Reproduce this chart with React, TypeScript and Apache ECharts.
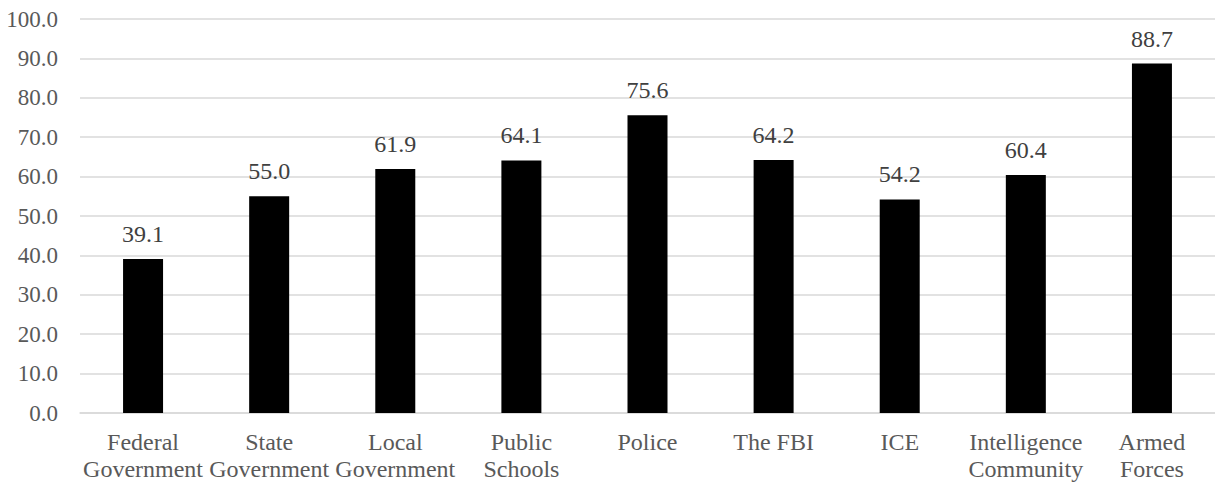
import React, { useEffect, useRef } from "react";
import * as echarts from "echarts";

const categories = [
  "Federal\nGovernment",
  "State\nGovernment",
  "Local\nGovernment",
  "Public\nSchools",
  "Police",
  "The FBI",
  "ICE",
  "Intelligence\nCommunity",
  "Armed\nForces",
];
const values = [39.1, 55.0, 61.9, 64.1, 75.6, 64.2, 54.2, 60.4, 88.7];
const yMin = 0;
const yMax = 100;
const yInterval = 10;

const FONT = "Times New Roman, Liberation Serif, DejaVu Serif, serif";

export default function App() {
  const ref = useRef<HTMLDivElement>(null);
  useEffect(() => {
    if (!ref.current) return;
    const chart = echarts.init(ref.current, undefined, { renderer: "svg" });
    chart.setOption({
      animation: false,
      textStyle: { fontFamily: FONT },
      grid: { left: 80, width: 1139, top: 19, bottom: 70, containLabel: false },
      xAxis: {
        type: "category",
        data: categories,
        axisTick: { show: false },
        axisLine: { show: true, lineStyle: { color: "#d9d9d9", width: 1.5 } },
        axisLabel: {
          color: "#595959",
          fontFamily: FONT,
          fontSize: 24,
          lineHeight: 27,
          margin: 15,
          interval: 0,
        },
      },
      yAxis: {
        type: "value",
        min: yMin,
        max: yMax,
        interval: yInterval,
        axisLine: { show: false },
        axisTick: { show: false },
        splitLine: { lineStyle: { color: "#d9d9d9", width: 1.5 } },
        axisLabel: {
          color: "#595959",
          fontFamily: FONT,
          fontSize: 23,
          margin: 22,
          formatter: (v: number) => v.toFixed(1),
        },
      },
      series: [
        {
          type: "bar",
          data: values,
          barWidth: 40,
          itemStyle: { color: "#000000" },
          label: {
            show: true,
            position: "top",
            distance: 13,
            color: "#404040",
            fontFamily: FONT,
            fontSize: 24,
            formatter: (p: any) => Number(p.value).toFixed(1),
          },
        },
      ],
    });
    return () => chart.dispose();
  }, []);
  return <div ref={ref} style={{ width: 1215, height: 483, position: "absolute", left: 0, top: 0, overflow: "hidden" }} />;
}
